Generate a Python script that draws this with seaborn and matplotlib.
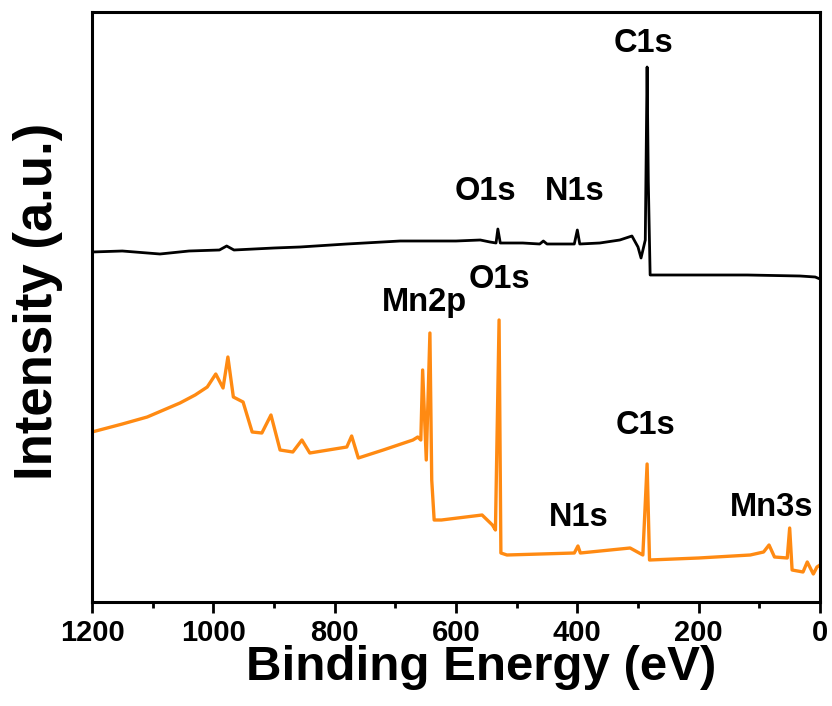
import matplotlib
matplotlib.use("Agg")
import matplotlib.pyplot as plt
from matplotlib import font_manager
from matplotlib.ticker import MultipleLocator
import seaborn as sns
import pandas as pd

# ---- data (binding energy in eV, intensity in arbitrary units) ----
black_ev = [1200, 1150, 1088, 1040, 990, 978, 966, 900, 857, 780, 692, 600, 560, 544,
            534, 531, 527, 490, 462, 456, 450, 420, 405, 400, 396, 363, 330, 310,
            300, 295, 288, 285, 283, 280, 250, 198, 120, 33, 8, 0]
black_int = [350, 351, 348, 351, 352, 356, 352, 354, 355, 358, 361, 361, 362, 360,
             359, 373, 359, 359, 358, 361, 358, 358, 358, 372, 358, 359, 362, 366,
             355, 344, 362, 535, 420, 327, 327, 327, 327, 326, 325, 323]

orange_ev = [1200, 1150, 1109, 1055, 1030, 1010, 996, 984, 976, 967, 951, 936, 920, 905, 890,
             869, 854, 841, 780, 772, 761, 720, 671, 663, 658, 655, 649, 643, 640,
             636, 624, 557, 540, 535, 529, 526, 516, 405, 399, 395, 313, 292, 285,
             281, 200, 115, 93, 84, 75, 54, 50, 46, 28, 21, 11, 5, 0]
orange_int = [170, 178, 185, 199, 207, 215, 228, 214, 245, 205, 200, 170, 169, 187, 152,
              150, 162, 149, 155, 166, 144, 152, 162, 165, 162, 232, 142, 269, 122,
              82, 82, 87, 77, 72, 282, 49, 47, 49, 56, 49, 54, 47, 138,
              42, 44, 47, 50, 57, 45, 44, 74, 32, 30, 40, 28, 35, 37]

labels_text = ["C1s", "O1s", "N1s", "Mn2p", "O1s", "C1s", "N1s", "Mn3s"]
# label anchor positions (eV, intensity)
labels_ev = [291, 552, 405, 652, 528, 287, 397, 80]
labels_int = [558, 411, 411, 299, 322, 176, 84, 95]

xticks = [1200, 1000, 800, 600, 400, 200, 0]

sns.set_theme(style="ticks")
plt.rcParams['font.family'] = ['Liberation Sans', 'DejaVu Sans']
plt.rcParams['font.weight'] = 'bold'
plt.rcParams['text.color'] = 'black'
plt.rcParams['axes.labelcolor'] = 'black'
plt.rcParams['xtick.color'] = 'black'
plt.rcParams['xtick.labelcolor'] = 'black'

names = {f.name for f in font_manager.fontManager.ttflist}
narrow = 'Liberation Sans Narrow' if 'Liberation Sans Narrow' in names else None

fig = plt.figure(figsize=(8.32, 7.06), dpi=100)
ax = fig.add_axes([92/832, 1 - 602/706, 728/832, 590/706])

df_b = pd.DataFrame({"ev": black_ev, "intensity": black_int})
df_o = pd.DataFrame({"ev": orange_ev, "intensity": orange_int})
sns.lineplot(data=df_b, x="ev", y="intensity", ax=ax, color="black", lw=2.0, sort=False)
sns.lineplot(data=df_o, x="ev", y="intensity", ax=ax, color="#FF8A12", lw=2.4, sort=False)

ax.set_xlim(1200, 0)
ax.set_ylim(0, 590)
ax.set_xticks(xticks)
ax.xaxis.set_minor_locator(MultipleLocator(100))
ax.set_yticks([])
ax.tick_params(axis='x', which='major', direction='out', length=8, width=2, pad=4,
               colors='black')
ax.tick_params(axis='x', which='minor', direction='out', length=4.5, width=2,
               colors='black')
for lab in ax.get_xticklabels():
    if narrow:
        lab.set_fontfamily(narrow)
        lab.set_fontsize(27)
    else:
        lab.set_fontsize(21)
    lab.set_fontweight('bold')
    lab.set_color('black')

for s in ax.spines.values():
    s.set_linewidth(2.2)
    s.set_color('black')

ax.set_xlabel("Binding Energy (eV)", fontsize=35.5, fontweight='bold', color='black')
ax.xaxis.set_label_coords(0.534, -0.073)
ax.set_ylabel("Intensity (a.u.)", fontsize=38, fontweight='bold', va='center', color='black')
ax.yaxis.set_label_coords(-0.074, 0.51)

for t, xe, yi in zip(labels_text, labels_ev, labels_int):
    ax.text(xe, yi, t, fontsize=23.5, fontweight='bold', ha='center', va='center',
            color='black')

fig.savefig("out.png", dpi=100)
